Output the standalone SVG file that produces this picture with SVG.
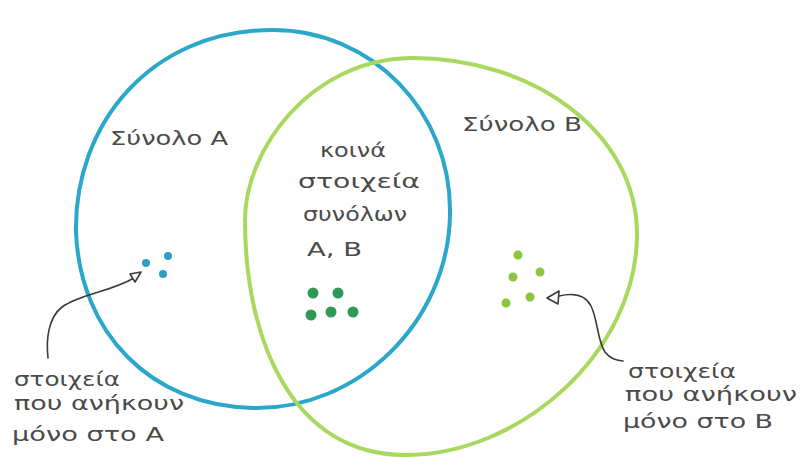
<svg xmlns="http://www.w3.org/2000/svg" width="802" height="457" viewBox="0 0 802 457">
  <defs>
    <style>
      .set { fill: none; stroke-width: 4; stroke-linecap: round; stroke-linejoin: round; }
      .setA { stroke: #2ba7c9; }
      .setB { stroke: #a9d85f; }
      .lbl { font-family: "DejaVu Sans", "Noto Sans", sans-serif; font-size: 19px; fill: #4a4a4a; }
      .pointer { fill: none; stroke: #3a3a3a; stroke-width: 1.6; stroke-linecap: round; }
      .head { fill: #ffffff; stroke: #3a3a3a; stroke-width: 1.6; stroke-linejoin: round; }
      .dotA { fill: #2e9fc4; }
      .dotAB { fill: #2f9a57; }
      .dotB { fill: #8cc640; }
    </style>
  </defs>
  <rect width="802" height="457" fill="#ffffff"/>

  <!-- set outlines -->
  <g id="setA">
    <path class="set setA" d="M 273,30 C 370,30 452,110 450,215 C 448,322 358,410 253,408 C 150,406 80,332 76,232 C 74,125 150,30 273,30 Z"/>
  </g>
  <g id="setB">
    <path class="set setB" d="M 410,58 C 532,57 638,132 637,236 C 636,352 520,456 404,455 C 292,454 245,340 245,220 C 245,150 310,60 410,58 Z"/>
  </g>

  <!-- labels of the sets -->
  <g id="labelA">
    <text class="lbl" x="110" y="145" textLength="118" lengthAdjust="spacingAndGlyphs">Σύνολο A</text>
  </g>
  <g id="labelB">
    <text class="lbl" x="462" y="131" textLength="120" lengthAdjust="spacingAndGlyphs">Σύνολο B</text>
  </g>
  <g id="labelCommon">
    <text class="lbl" x="320" y="157" textLength="66" lengthAdjust="spacingAndGlyphs">κοινά</text>
    <text class="lbl" x="298" y="188" textLength="122" lengthAdjust="spacingAndGlyphs">στοιχεία</text>
    <text class="lbl" x="303" y="221" textLength="104" lengthAdjust="spacingAndGlyphs">συνόλων</text>
    <text class="lbl" x="307" y="256" font-size="22" textLength="55" lengthAdjust="spacingAndGlyphs">A, B</text>
  </g>

  <!-- elements -->
  <g id="elementsA">
    <circle class="dotA" cx="146" cy="263" r="4"/>
    <circle class="dotA" cx="168" cy="256" r="4"/>
    <circle class="dotA" cx="163" cy="274" r="4"/>
  </g>
  <g id="elementsAB">
    <circle class="dotAB" cx="313" cy="293" r="5.5"/>
    <circle class="dotAB" cx="338" cy="293" r="5.5"/>
    <circle class="dotAB" cx="311" cy="315" r="5.5"/>
    <circle class="dotAB" cx="331" cy="312" r="5.5"/>
    <circle class="dotAB" cx="353" cy="312" r="5.5"/>
  </g>
  <g id="elementsB">
    <circle class="dotB" cx="518" cy="255" r="4.5"/>
    <circle class="dotB" cx="513" cy="277" r="4.5"/>
    <circle class="dotB" cx="540" cy="272" r="4.5"/>
    <circle class="dotB" cx="530" cy="297" r="4.5"/>
    <circle class="dotB" cx="506" cy="303" r="4.5"/>
  </g>

  <!-- captions -->
  <g id="captionA">
    <text class="lbl" x="14" y="386" textLength="106" lengthAdjust="spacingAndGlyphs">στοιχεία</text>
    <text class="lbl" x="14" y="410" textLength="170" lengthAdjust="spacingAndGlyphs">που ανήκουν</text>
    <text class="lbl" x="12" y="441" textLength="152" lengthAdjust="spacingAndGlyphs">μόνο στο A</text>
  </g>
  <g id="captionB">
    <text class="lbl" x="628" y="378" textLength="108" lengthAdjust="spacingAndGlyphs">στοιχεία</text>
    <text class="lbl" x="625" y="401" textLength="172" lengthAdjust="spacingAndGlyphs">που ανήκουν</text>
    <text class="lbl" x="623" y="428" textLength="150" lengthAdjust="spacingAndGlyphs">μόνο στο B</text>
  </g>

  <!-- pointers -->
  <g id="connectors">
    <path class="pointer" d="M 48,358 C 46,340 48,318 62,307 C 80,294 110,292 134,278"/>
    <polygon class="head" points="141,272 130,274 135,282"/>
    <path class="pointer" d="M 559,296 C 572,293 585,294 591,306 C 598,320 597,340 605,352 C 610,359 617,360 623,361"/>
    <polygon class="head" points="547,298 559,291 558,304"/>
  </g>
</svg>
